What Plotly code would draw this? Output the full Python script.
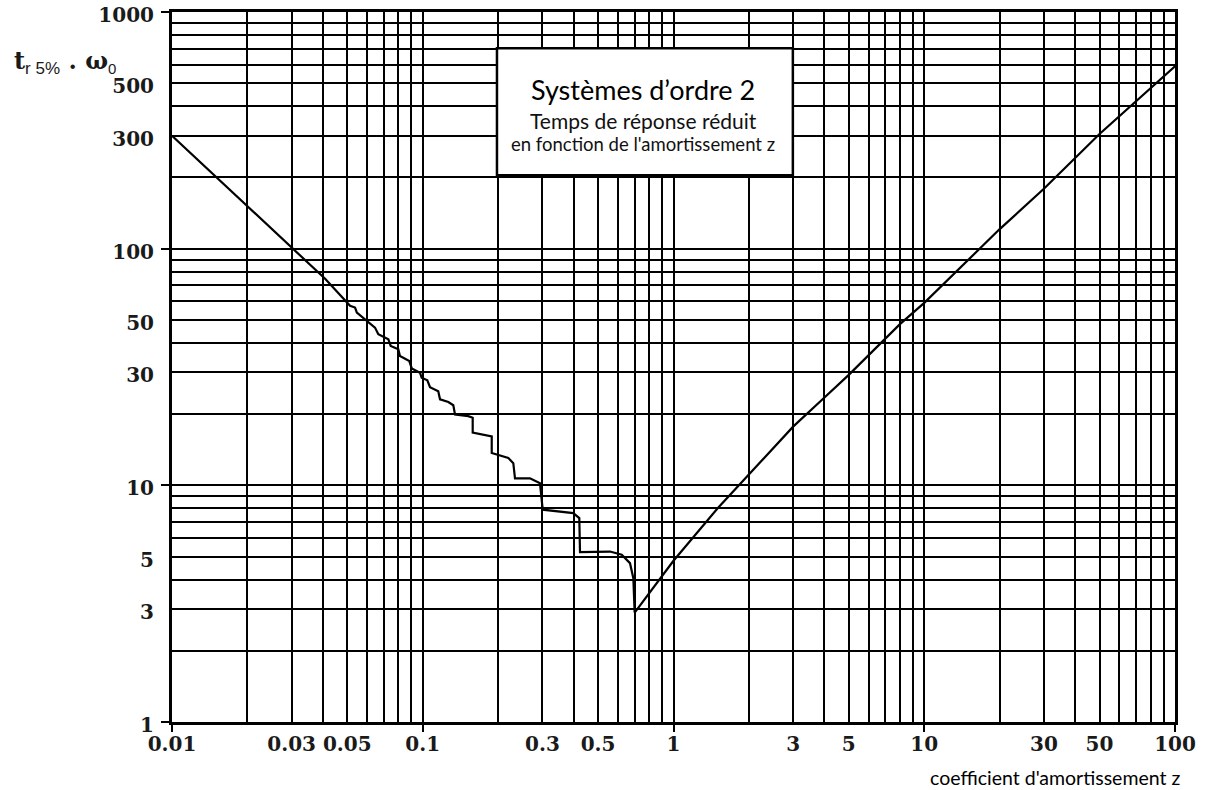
import plotly.graph_objects as go

# damping coefficient z and reduced response time t_r5% * w0
z_vals = [0.01, 0.0304, 0.0408, 0.0513, 0.0537, 0.0546, 0.0616, 0.0645, 0.0665, 0.0729,
          0.0745, 0.0799, 0.0811, 0.0884, 0.0904, 0.0975, 0.099, 0.1043, 0.1069, 0.1153,
          0.1172, 0.1265, 0.1324, 0.1345, 0.1519, 0.1582, 0.1582, 0.1884, 0.1884, 0.2194,
          0.2297, 0.2333, 0.2677, 0.2935, 0.3009, 0.3985, 0.4210, 0.4238, 0.558, 0.6215,
          0.6706, 0.6916, 0.70, 0.8, 0.9, 1.0, 1.5, 2, 3, 4, 5, 8, 10, 20, 30, 50, 100]
t_vals = [300, 100, 74.6, 57.4, 56.4, 53.7, 48.0, 46.4, 43.5, 41.4,
          38.8, 37.6, 35.2, 33.5, 31.2, 29.9, 28.5, 27.8, 26.0, 25.0,
          23.1, 22.5, 21.8, 19.9, 19.6, 19.3, 16.7, 16.1, 13.7, 13.05,
          12.4, 10.7, 10.7, 10.2, 7.89, 7.63, 7.27, 5.22, 5.25, 5.09,
          4.69, 4.05, 2.9, 3.5, 4.1, 4.8, 8.0, 11.1, 17.7, 23.5, 29.3, 48, 59, 121, 179, 305, 590]

x_labels = {0.01: "0.01", 0.03: "0.03", 0.05: "0.05", 0.1: "0.1", 0.3: "0.3", 0.5: "0.5",
            1: "1", 3: "3", 5: "5", 10: "10", 30: "30", 50: "50", 100: "100"}
y_labels = {1: "1", 3: "3", 5: "5", 10: "10", 30: "30", 50: "50", 100: "100",
            300: "300", 500: "500", 1000: "1000"}
x_decades = [0.01, 0.1, 1, 10, 100]
y_decades = [1, 10, 100, 1000]


def grid_vals(decades):
    vals = []
    for d in decades[:-1]:
        for k in range(1, 10):
            vals.append(round(k * d, 6))
    vals.append(decades[-1])
    return vals


x_grid = grid_vals(x_decades)
y_grid = grid_vals(y_decades)


def text_for(vals, labels):
    out = []
    for v in vals:
        key = next((k for k in labels if abs(k - v) < 1e-9), None)
        out.append(labels[key] if key is not None else "")
    return out


tick_font = dict(family="DejaVu Serif", size=20, color="#1a1a1a", weight="bold")

fig = go.Figure()
fig.add_trace(go.Scatter(x=z_vals, y=t_vals, mode="lines",
                         line=dict(color="black", width=2.2), showlegend=False,
                         hoverinfo="skip"))
# empty trace so the overlay axes (decade tick marks) are drawn
fig.add_trace(go.Scatter(x=[], y=[], xaxis="x2", yaxis="y2", showlegend=False,
                         hoverinfo="skip"))

fig.update_layout(
    width=1205, height=790,
    paper_bgcolor="white", plot_bgcolor="white",
    margin=dict(l=172, r=30, t=12, b=68, autoexpand=False),
    xaxis=dict(type="log", range=[-2, 2], tickmode="array", tickvals=x_grid,
               ticktext=text_for(x_grid, x_labels), ticks="", showgrid=True,
               gridcolor="black", gridwidth=1.6, showline=True, linecolor="black",
               linewidth=2.5, mirror=True, tickfont=tick_font, ticklabelstandoff=2,
               ticklabeloverflow="allow", zeroline=False, automargin=False),
    yaxis=dict(type="log", range=[0, 3], tickmode="array", tickvals=y_grid,
               ticktext=text_for(y_grid, y_labels), ticks="", showgrid=True,
               gridcolor="black", gridwidth=1.6, showline=True, linecolor="black",
               linewidth=3, mirror=True, tickfont=tick_font, ticklabelstandoff=11,
               ticklabelshift=3, ticklabeloverflow="allow", zeroline=False,
               automargin=False),
    xaxis2=dict(type="log", range=[-2, 2], overlaying="x", anchor="y", side="bottom",
                tickmode="array", tickvals=x_decades, ticks="outside", ticklen=9,
                tickwidth=1.5, tickcolor="black", showticklabels=False,
                showgrid=False, showline=False, zeroline=False, automargin=False),
    yaxis2=dict(type="log", range=[0, 3], overlaying="y", anchor="x", side="left",
                tickmode="array", tickvals=y_decades, ticks="outside", ticklen=10,
                tickwidth=2, tickcolor="black", showticklabels=False,
                showgrid=False, showline=False, zeroline=False, automargin=False),
)

# title box
fig.add_shape(type="rect", xref="paper", yref="paper", x0=0.324, x1=0.619, y0=0.770, y1=0.949,
              fillcolor="white", line=dict(color="black", width=2.5), layer="above")
box_font = "Lato"
fig.add_annotation(xref="paper", yref="paper", x=0.4696, y=0.8915, xanchor="center", yanchor="middle",
                   text="Systèmes d’ordre 2",
                   showarrow=False, font=dict(family=box_font, size=27, color="black"))
fig.add_annotation(xref="paper", yref="paper", x=0.4696, y=0.8465, xanchor="center", yanchor="middle",
                   text="Temps de réponse réduit",
                   showarrow=False, font=dict(family=box_font, size=21, color="#111"))
fig.add_annotation(xref="paper", yref="paper", x=0.4696, y=0.8145, xanchor="center", yanchor="middle",
                   text="en fonction de l'amortissement z",
                   showarrow=False, font=dict(family=box_font, size=18.5, color="#111"))

# axis titles
fig.add_annotation(xref="paper", yref="paper", x=-0.1595, y=0.929, xanchor="left", yanchor="middle",
                   text="<b>t</b><sub><span style='font-family:Liberation Sans;font-size:17px'>r 5%</span></sub>"
                        "<b> . ω</b><sub><span style='font-family:Liberation Sans;font-size:15px'>0</span></sub>",
                   showarrow=False, font=dict(family="DejaVu Serif", size=24, color="#1a1a1a"))
fig.add_annotation(xref="paper", yref="paper", x=1.007, y=-0.0775, xanchor="right", yanchor="middle",
                   text="coefficient d'amortissement z", showarrow=False,
                   font=dict(family=box_font, size=19.5, color="black"))

# remove the default 8px page margin so the figure fills the window exactly
fig.write_html("out.html", config={"displayModeBar": False},
               post_script="document.body.style.margin='0';")
